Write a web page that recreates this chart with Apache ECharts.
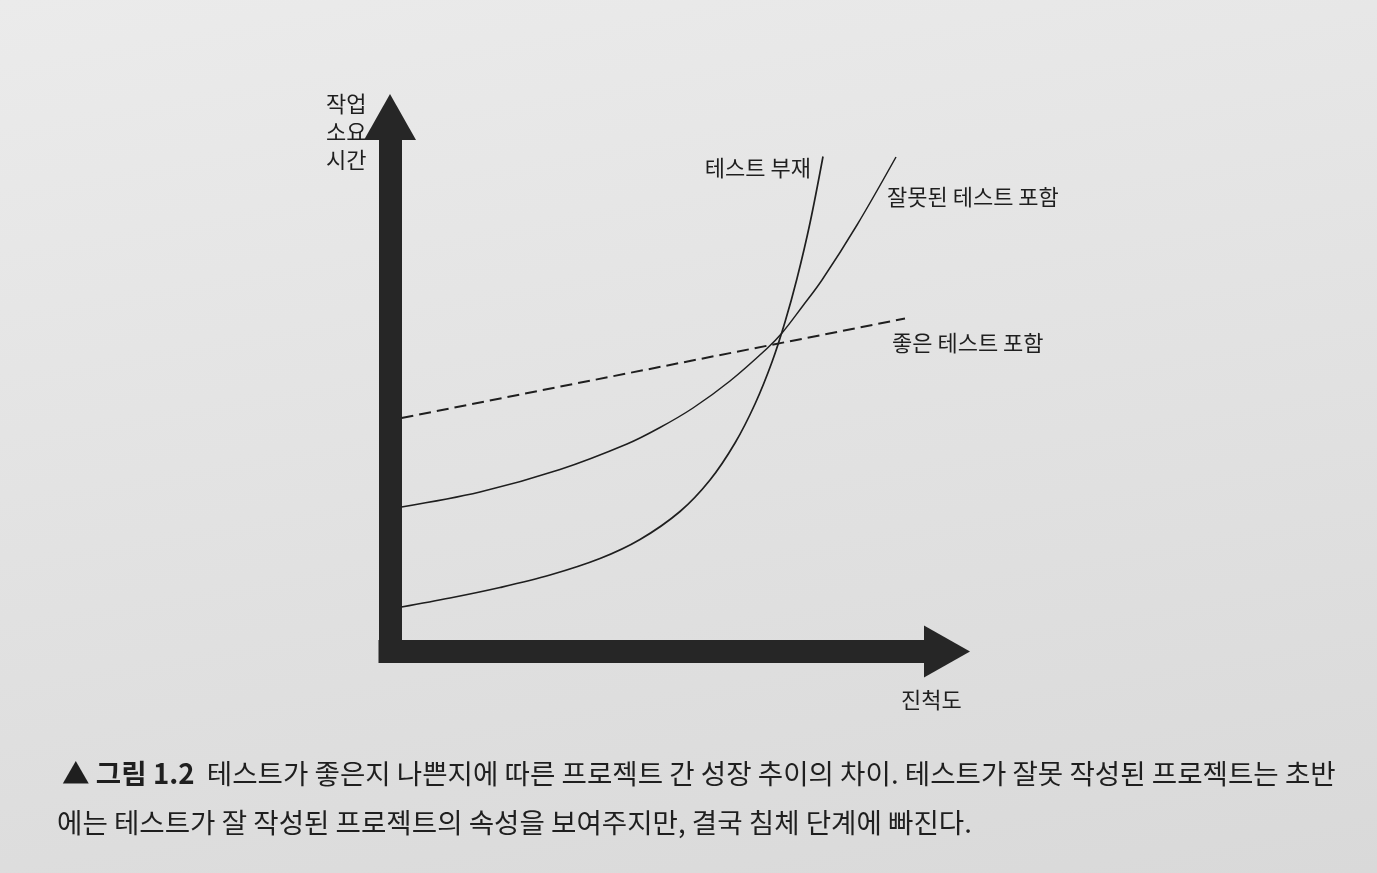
<!DOCTYPE html>
<html>
<head>
<meta charset="utf-8">
<script src="https://cdn.jsdelivr.net/npm/echarts@6/dist/echarts.min.js"></script>
<style>
  html, body { margin: 0; padding: 0; }
  body { background: linear-gradient(170deg, #ebebeb 0%, #e2e2e2 50%, #d9d9d9 100%); }
  #chart { width: 1377px; height: 873px; }
</style>
</head>
<body>
<div id="chart"></div>
<script>
// ---- data (axes have no numeric ticks) ----
const seriesNames = ['테스트 부재', '잘못된 테스트 포함', '좋은 테스트 포함'];

const progressNoTests = [0, 9.7, 19.7, 29.7, 39.7, 47.7, 55.7, 61.7, 66.7, 70.7, 74.1, 76.7, 79.1, 81.7, 84.3];
const timeNoTests     = [6.6, 8.4, 10.5, 13.0, 16.3, 20.1, 25.7, 32.0, 39.4, 47.2, 55.6, 63.6, 72.3, 83.4, 96.7];

const progressBadTests = [0, 15.7, 31.7, 45.1, 51.7, 58.3, 65.7, 73.1, 76.1, 80.1, 84.1, 91.1, 98.9];
const timeBadTests     = [26.6, 29.6, 34.1, 39.2, 42.5, 46.4, 51.8, 58.3, 61.4, 66.6, 72.0, 83.0, 96.6];

const progressGoodTests = [0, 100.7];
const timeGoodTests     = [44.4, 64.3];

const xAxisName = '진척도';
const yAxisName = ['작업', '소요', '시간'];
const captionBold = '▲ 그림 1.2';
const captionLine1 = '테스트가 좋은지 나쁜지에 따른 프로젝트 간 성장 추이의 차이. 테스트가 잘못 작성된 프로젝트는 초반';
const captionLine2 = '에는 테스트가 잘 작성된 프로젝트의 속성을 보여주지만, 결국 침체 단계에 빠진다.';

// ---- build ----
const zip = (xs, ys) => xs.map((x, i) => [x, ys[i]]);
const FONT = '"Noto Sans CJK KR", "Noto Sans", sans-serif';
const INK = '#1f1f1f';
const AXIS_INK = '#262626';

const arrowAxis = {
  show: true,
  onZero: false,
  symbol: ['none', 'triangle'],
  symbolSize: [52, 46],
  symbolOffset: [0, 23],
  lineStyle: { color: AXIS_INK, width: 23, cap: 'square' }
};

const labelStyle = { show: true, formatter: '{a}', fontFamily: FONT, fontSize: 22, color: INK, verticalAlign: 'middle', distance: 0 };

const chart = echarts.init(document.getElementById('chart'), null, { renderer: 'canvas' });
chart.setOption({
  backgroundColor: 'transparent',
  animation: false,
  grid: { left: 390, top: 140, width: 534, height: 511.5, containLabel: false },
  xAxis: {
    type: 'value', min: -2.3, max: 104.5,
    axisLine: arrowAxis,
    axisTick: { show: false }, axisLabel: { show: false }, splitLine: { show: false }
  },
  yAxis: {
    type: 'value', min: -2.3, max: 100,
    axisLine: arrowAxis,
    axisTick: { show: false }, axisLabel: { show: false }, splitLine: { show: false }
  },
  series: [
    {
      name: seriesNames[0], type: 'line', data: zip(progressNoTests, timeNoTests),
      showSymbol: false, smooth: 0.35, z: 5,
      lineStyle: { color: INK, width: 1.7 },
      endLabel: Object.assign({}, labelStyle, { align: 'right', offset: [-12, 11] })
    },
    {
      name: seriesNames[1], type: 'line', data: zip(progressBadTests, timeBadTests),
      showSymbol: false, smooth: 0.35, z: 5,
      lineStyle: { color: INK, width: 1.5 },
      endLabel: Object.assign({}, labelStyle, { align: 'left', offset: [-9, 40] })
    },
    {
      name: seriesNames[2], type: 'line', data: zip(progressGoodTests, timeGoodTests),
      showSymbol: false, z: 5,
      lineStyle: { color: INK, width: 2, type: [12, 6] },
      endLabel: Object.assign({}, labelStyle, { align: 'left', offset: [-13, 24] })
    }
  ],
  graphic: [
    {
      type: 'text', left: 326, top: 90,
      style: { text: yAxisName.join('\n'), font: '22px ' + FONT, fill: INK, lineHeight: 28, align: 'center' }
    },
    {
      type: 'text', left: 901, top: 689,
      style: { text: xAxisName, font: '22px ' + FONT, fill: INK }
    },
    {
      type: 'text', left: 62, top: 760,
      style: {
        text: '{b|' + captionBold + '}  ' + captionLine1,
        font: '27.6px ' + FONT, fill: INK,
        rich: { b: { fontWeight: 'bold', fontSize: 27.6, fontFamily: FONT, fill: INK } }
      }
    },
    {
      type: 'text', left: 57, top: 809,
      style: { text: captionLine2, font: '27.6px ' + FONT, fill: INK }
    }
  ]
});
</script>
</body>
</html>
